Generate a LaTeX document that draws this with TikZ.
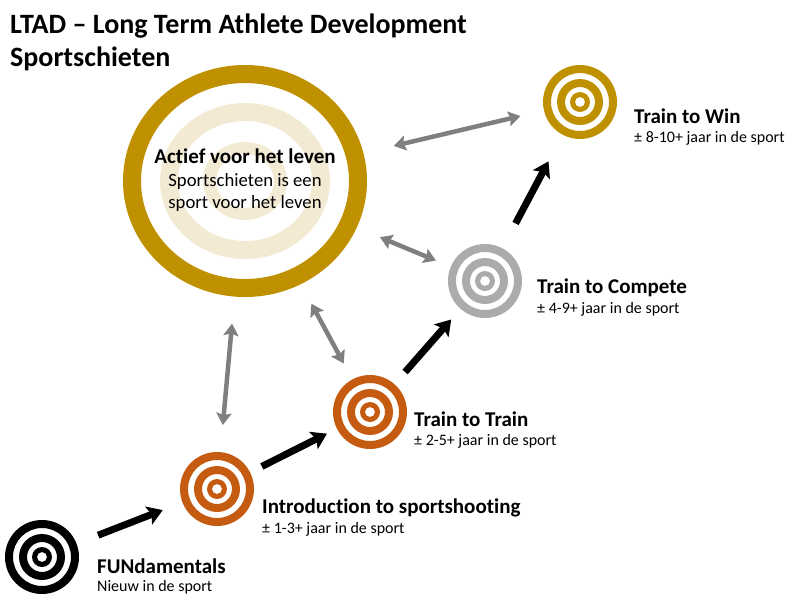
\documentclass[tikz,border=0pt]{standalone}
\usepackage{fontspec}
\setmainfont{Carlito}[Ligatures={TeX,NoCommon}]
\usepackage{tikz}
\usetikzlibrary{shapes.geometric, arrows.meta, positioning, calc}

\definecolor{ltadgold}{HTML}{BF9000}
\definecolor{ltadorange}{HTML}{C55A11}
\definecolor{ltadgray}{HTML}{ABABAB}
\definecolor{ltadcream}{HTML}{F3EAD4}
\definecolor{ltadlink}{HTML}{7F7F7F}

\begin{document}
\begin{tikzpicture}[
    x=1pt, y=-1pt,
    target/.style={circle, minimum size=76pt, inner sep=0pt},
    stage/.style={anchor=base west, inner sep=0pt,
                  font=\fontsize{21}{24}\selectfont\bfseries},
    years/.style={anchor=base west, inner sep=0pt,
                  font=\fontsize{16}{19}\selectfont},
    heading/.style={anchor=base west, inner sep=0pt,
                  font=\fontsize{28}{33}\selectfont\bfseries},
    growth/.style={-{Stealth[length=15pt, width=19pt, inset=3pt]},
                   line width=7pt, black},
    link/.style={{Stealth[length=12pt, width=15pt, inset=2pt]}-{Stealth[length=12pt, width=15pt, inset=2pt]},
                 line width=4.5pt, ltadlink}
]
\useasboundingbox (0,0) rectangle (790,595);

% title
\node[heading] (title) at (10,33) {LTAD -- Long Term Athlete Development};
\node[heading] (subtitle) at (10,66) {Sportschieten};

% large target
\node[ellipse, minimum width=244pt, minimum height=232pt, inner sep=0pt] (big) at (245,181) {};
\fill[ltadgold, even odd rule] (big) ellipse [x radius=122pt, y radius=116pt]
    ellipse [x radius=104pt, y radius=98pt];
\fill[ltadcream, even odd rule] (big) ellipse [x radius=85pt, y radius=78pt]
    ellipse [x radius=67pt, y radius=60pt]
    ellipse [x radius=42pt, y radius=39pt] ellipse [x radius=29pt, y radius=27pt];
\node[anchor=base, inner sep=0pt, font=\fontsize{21}{24}\selectfont\bfseries]
    (motto) at (245,163) {Actief voor het leven};
\node[anchor=base, inner sep=0pt, font=\fontsize{18.7}{22}\selectfont]
    (mottoa) at (245,186) {Sportschieten is een};
\node[anchor=base, inner sep=0pt, font=\fontsize{18.7}{22}\selectfont]
    (mottob) at (245,208) {sport voor het leven};

% stage targets
\foreach \name/\x/\y/\col in {fun/42/557/black, intro/217/489/ltadorange,
    ttt/370/412/ltadorange, ttc/485/281/ltadgray, ttw/580/102/ltadgold} {
    \node[target] (\name) at (\x,\y) {};
    \fill[\col, even odd rule] (\name) circle (37pt) circle (29pt) circle (23pt)
        circle (15pt) circle (10pt) circle (5pt);
}

% labels
\node[stage] (funname) at (97,573) {FUNdamentals};
\node[years] (funyears) at (97,591) {Nieuw in de sport};
\node[stage] (introname) at (262,513) {Introduction to sportshooting};
\node[years] (introyears) at (262,533) {± 1-3+ jaar in de sport};
\node[stage] (tttname) at (414,426) {Train to Train};
\node[years] (tttyears) at (414,445) {± 2-5+ jaar in de sport};
\node[stage] (ttcname) at (537,293) {Train to Compete};
\node[years] (ttcyears) at (537,313) {± 4-9+ jaar in de sport};
\node[stage] (ttwname) at (634,123) {Train to Win};
\node[years] (ttwyears) at (634,142) {± 8-10+ jaar in de sport};

% pathway
\draw[growth, shorten <=22pt, shorten >=20pt] (fun) -- (intro);
\draw[growth, shorten <=12pt, shorten >=10pt] (intro) -- (ttt);
\draw[growth, shorten <=15pt, shorten >=13pt] (ttt) -- (ttc);
\draw[growth, shorten <=27pt, shorten >=29pt] (ttc) -- (ttw);

% links back to the large target
\draw[link, shorten <=31pt, shorten >=23pt] (big) -- (ttw);
\draw[link, shorten <=25pt, shorten >=15pt] (big) -- (ttc);
\draw[link, shorten <=22pt, shorten >=17pt] (big) -- (ttt);
\draw[link, shorten <=27pt, shorten >=26pt] (big) -- (intro);
\end{tikzpicture}
\end{document}
